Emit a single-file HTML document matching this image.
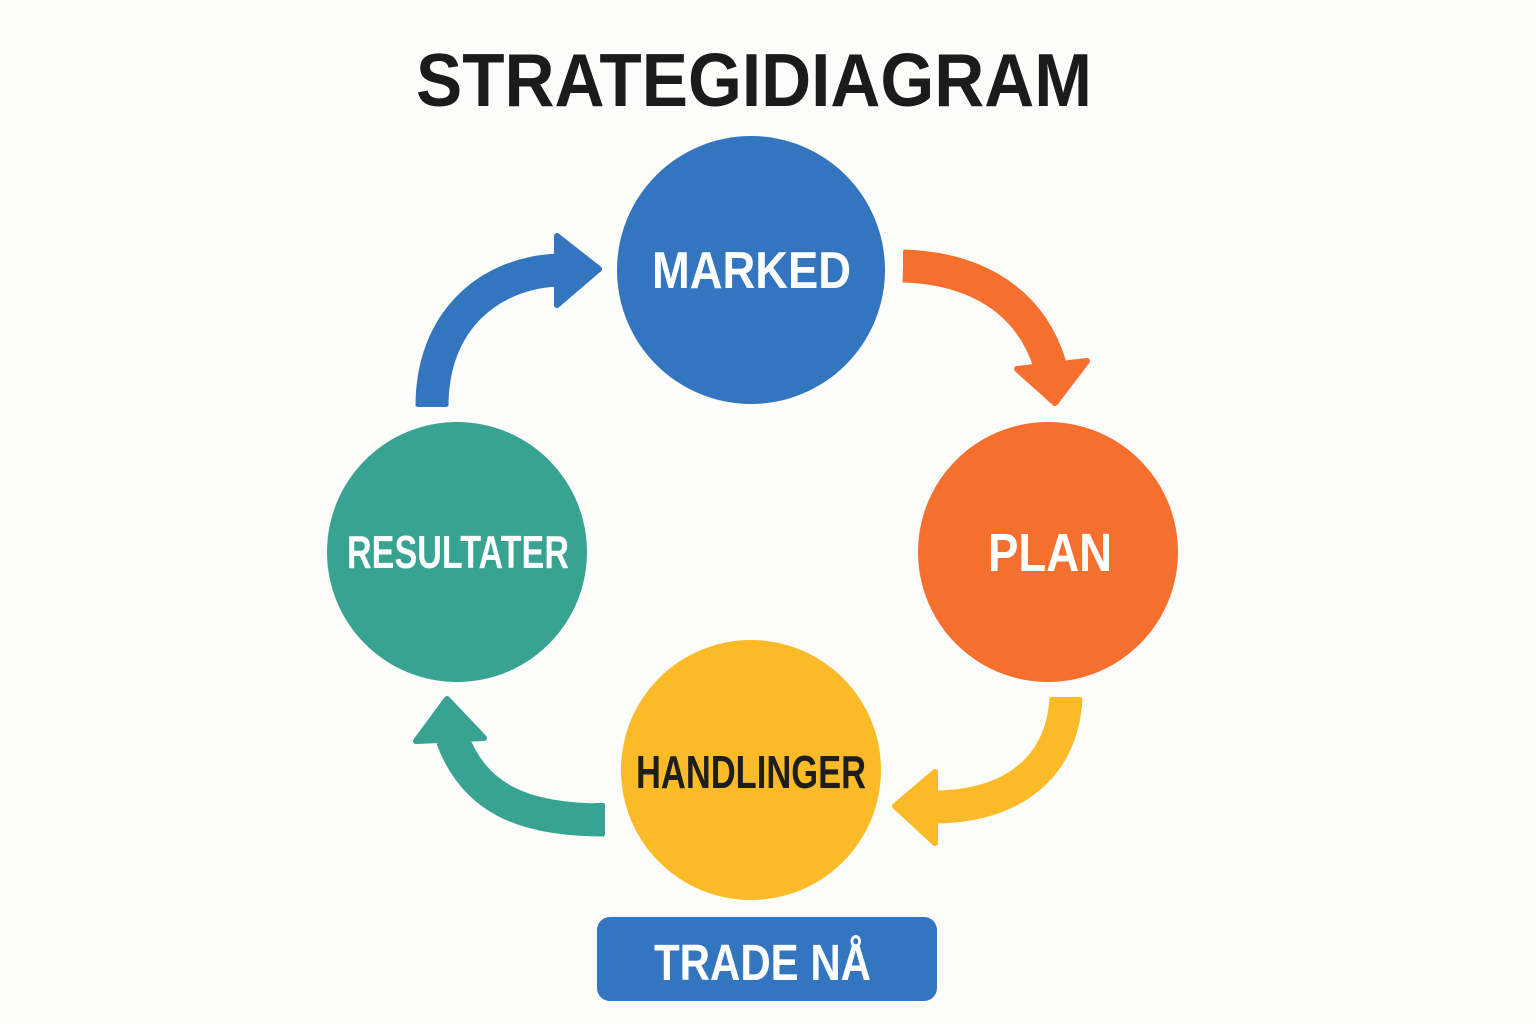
<!DOCTYPE html>
<html><head><meta charset="utf-8"><style>
html,body{margin:0;padding:0;background:#fcfcfb;}
svg{display:block}
text{font-family:"Liberation Sans",sans-serif;font-weight:bold;}
</style></head><body>
<svg width="1536" height="1024" viewBox="0 0 1536 1024" xmlns="http://www.w3.org/2000/svg">
<rect width="1536" height="1024" fill="#fcfcfb"/>
<text x="416" y="106" font-size="75" fill="#1b1b1b" textLength="676" lengthAdjust="spacingAndGlyphs">STRATEGIDIAGRAM</text>

<!-- arrows -->
<g stroke-linejoin="round">
<path d="M432,406 C432,320 490,272 560,270" fill="none" stroke="#3475c0" stroke-width="33"/>
<polygon points="557,236 599,269 557,305" fill="#3475c0" stroke="#3475c0" stroke-width="6"/>

<path d="M903,266 C975,268 1030,300 1050,365" fill="none" stroke="#f5702f" stroke-width="33"/>
<polygon points="1017,369 1087,361 1055,403" fill="#f5702f" stroke="#f5702f" stroke-width="6"/>

<path d="M1066,698 C1062,770 1010,806 936,807" fill="none" stroke="#fbbb28" stroke-width="33"/>
<polygon points="935,772 895,806 935,843" fill="#fbbb28" stroke="#fbbb28" stroke-width="6"/>

<path d="M604,820 C525,820 475,800 452,738" fill="none" stroke="#37a390" stroke-width="33"/>
<polygon points="447,699 416,741 484,738" fill="#37a390" stroke="#37a390" stroke-width="6"/>
</g>
<rect x="416" y="395" width="32" height="12" fill="#3475c0" rx="2"/>
<rect x="903" y="250" width="12" height="32" fill="#f5702f" rx="2"/>
<rect x="1050" y="697" width="32" height="12" fill="#fbbb28" rx="2"/>
<rect x="593" y="803" width="12" height="33" fill="#37a390" rx="2"/>

<!-- circles -->
<circle cx="751" cy="270" r="134" fill="#3475c0"/>
<circle cx="1048" cy="552" r="130" fill="#f5702f"/>
<circle cx="457" cy="552" r="130" fill="#37a390"/>
<circle cx="751" cy="770" r="130" fill="#fbbb28"/>

<text x="652" y="288" font-size="52" fill="#fff" textLength="199" lengthAdjust="spacingAndGlyphs">MARKED</text>
<text x="988" y="571" font-size="54" fill="#fff" textLength="124" lengthAdjust="spacingAndGlyphs">PLAN</text>
<text x="347" y="568" font-size="46" fill="#fff" textLength="222" lengthAdjust="spacingAndGlyphs">RESULTATER</text>
<text x="636" y="788" font-size="46" fill="#1e1e1e" textLength="230" lengthAdjust="spacingAndGlyphs">HANDLINGER</text>

<rect x="597" y="917" width="340" height="84" rx="13" fill="#3475c0"/>
<text x="654" y="980" font-size="51" fill="#fff" textLength="217" lengthAdjust="spacingAndGlyphs">TRADE NÅ</text>
</svg>
</body></html>
